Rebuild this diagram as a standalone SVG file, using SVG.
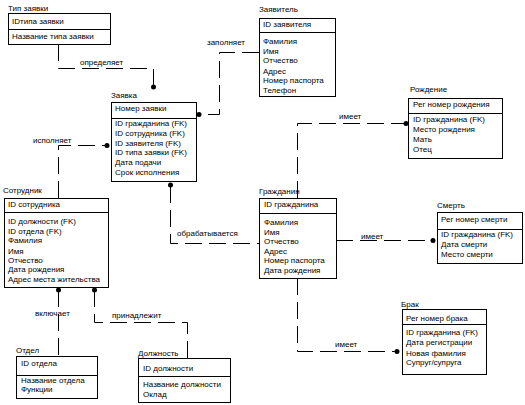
<svg xmlns="http://www.w3.org/2000/svg" width="525" height="405" viewBox="0 0 525 405">
<style>
text{font-family:"Liberation Sans",Arial,sans-serif;font-size:8px;fill:#000}
.box{fill:#fff;stroke:#000;stroke-width:1}
.div{stroke:#000;stroke-width:1}
.rel{fill:none;stroke:#000;stroke-width:1;stroke-dasharray:17 7}
.dot{fill:#000}
</style>
<rect width="525" height="405" fill="#fff"/>
<g id="connectors">
<path class="rel" d="M58.5,44 V68.5 H153.5 V86"/>
<circle class="dot" cx="153.5" cy="87" r="2.5"/>
<text x="80" y="65">определяет</text>
<path class="rel" d="M259,52.5 H219.5 V114.5 H200"/>
<circle class="dot" cx="199" cy="114.5" r="2.5"/>
<text x="207" y="45">заполняет</text>
<path class="rel" d="M58.5,198 V145.5 H106"/>
<circle class="dot" cx="107" cy="145.5" r="2.5"/>
<text x="33" y="143">исполняет</text>
<path class="rel" d="M170.5,186 V243.5 H259"/>
<circle class="dot" cx="170.5" cy="185" r="2.5"/>
<text x="177" y="236">обрабатывается</text>
<path class="rel" d="M297.5,198 V123.5 H405"/>
<circle class="dot" cx="406" cy="123.5" r="2.5"/>
<text x="339" y="119">имеет</text>
<path class="rel" d="M336,240.5 H432"/>
<circle class="dot" cx="433" cy="240.5" r="2.5"/>
<text x="361" y="239">имеет</text>
<path class="rel" d="M297.5,278 V351.5 H396"/>
<circle class="dot" cx="397" cy="351.5" r="2.5"/>
<text x="335" y="347">имеет</text>
<path class="rel" d="M58.5,290 V356"/>
<circle class="dot" cx="58.5" cy="290" r="2.5"/>
<text x="35" y="316">включает</text>
<path class="rel" d="M94.5,290 V322.5 H187.5 V358"/>
<circle class="dot" cx="94.5" cy="290" r="2.5"/>
<text x="112" y="318">принадлежит</text>
</g>
<g id="tip_zayavki">
<text x="8" y="11">Тип заявки</text>
<rect class="box" x="8.5" y="13.5" width="102" height="31"/>
<line class="div" x1="8.5" y1="29.5" x2="110.5" y2="29.5"/>
<text x="12" y="24">IDтипа заявки</text>
<text x="12" y="39">Название типа заявки</text>
</g>
<g id="zayavitel">
<text x="259" y="12">Заявитель</text>
<rect class="box" x="259.5" y="18.5" width="76" height="78"/>
<line class="div" x1="259.5" y1="32.5" x2="335.5" y2="32.5"/>
<text x="263" y="27">ID заявителя</text>
<text x="263" y="44">Фамилия</text>
<text x="263" y="54">Имя</text>
<text x="263" y="63">Отчество</text>
<text x="263" y="74">Адрес</text>
<text x="263" y="83">Номер паспорта</text>
<text x="263" y="93">Телефон</text>
</g>
<g id="zayavka">
<text x="111" y="98">Заявка</text>
<rect class="box" x="111.5" y="102.5" width="85" height="79"/>
<line class="div" x1="111.5" y1="118.5" x2="196.5" y2="118.5"/>
<text x="115" y="111">Номер заявки</text>
<text x="115" y="126">ID гражданина (FK)</text>
<text x="115" y="136">ID сотрудника (FK)</text>
<text x="115" y="146">ID заявителя (FK)</text>
<text x="115" y="155">ID типа заявки (FK)</text>
<text x="115" y="165">Дата подачи</text>
<text x="115" y="175">Срок исполнения</text>
</g>
<g id="sotrudnik">
<text x="3" y="193">Сотрудник</text>
<rect class="box" x="4.5" y="198.5" width="104" height="89"/>
<line class="div" x1="4.5" y1="212.5" x2="108.5" y2="212.5"/>
<text x="8" y="207">ID сотрудника</text>
<text x="8" y="224">ID должности (FK)</text>
<text x="8" y="234">ID отдела (FK)</text>
<text x="8" y="243">Фамилия</text>
<text x="8" y="254">Имя</text>
<text x="8" y="263">Отчество</text>
<text x="8" y="272">Дата рождения</text>
<text x="8" y="282">Адрес места жительства</text>
</g>
<g id="grazhdanin">
<text x="259" y="194">Гражданин</text>
<rect class="box" x="259.5" y="198.5" width="77" height="80"/>
<line class="div" x1="259.5" y1="213.5" x2="336.5" y2="213.5"/>
<text x="264" y="207">ID гражданина</text>
<text x="264" y="225">Фамилия</text>
<text x="264" y="235">Имя</text>
<text x="264" y="244">Отчество</text>
<text x="264" y="254">Адрес</text>
<text x="264" y="263">Номер паспорта</text>
<text x="264" y="273">Дата рождения</text>
</g>
<g id="rozhdenie">
<text x="410" y="92">Рождение</text>
<rect class="box" x="408.5" y="98.5" width="94" height="60"/>
<line class="div" x1="408.5" y1="113.5" x2="502.5" y2="113.5"/>
<text x="413" y="107">Рег номер рождения</text>
<text x="413" y="122">ID гражданина (FK)</text>
<text x="413" y="132">Место рождения</text>
<text x="413" y="142">Мать</text>
<text x="413" y="152">Отец</text>
</g>
<g id="smert">
<text x="437" y="208">Смерть</text>
<rect class="box" x="437.5" y="212.5" width="85" height="51"/>
<line class="div" x1="437.5" y1="229.5" x2="522.5" y2="229.5"/>
<text x="441" y="222">Рег номер смерти</text>
<text x="441" y="237">ID гражданина (FK)</text>
<text x="441" y="247">Дата смерти</text>
<text x="441" y="257">Место смерти</text>
</g>
<g id="brak">
<text x="401" y="307">Брак</text>
<rect class="box" x="402.5" y="309.5" width="84" height="65"/>
<line class="div" x1="402.5" y1="324.5" x2="486.5" y2="324.5"/>
<text x="406" y="321">Рег номер брака</text>
<text x="406" y="335">ID гражданина (FK)</text>
<text x="406" y="345">Дата регистрации</text>
<text x="406" y="356">Новая фамилия</text>
<text x="406" y="365">Супруг/супруга</text>
</g>
<g id="otdel">
<text x="16" y="353">Отдел</text>
<rect class="box" x="16.5" y="356.5" width="81" height="42"/>
<line class="div" x1="16.5" y1="375.5" x2="97.5" y2="375.5"/>
<text x="21" y="366">ID отдела</text>
<text x="21" y="383">Название отдела</text>
<text x="21" y="392">Функции</text>
</g>
<g id="dolzhnost">
<text x="138" y="356">Должность</text>
<rect class="box" x="138.5" y="358.5" width="92" height="44"/>
<line class="div" x1="138.5" y1="376.5" x2="230.5" y2="376.5"/>
<text x="143" y="371">ID должности</text>
<text x="143" y="387">Название должности</text>
<text x="143" y="397">Оклад</text>
</g>
</svg>
